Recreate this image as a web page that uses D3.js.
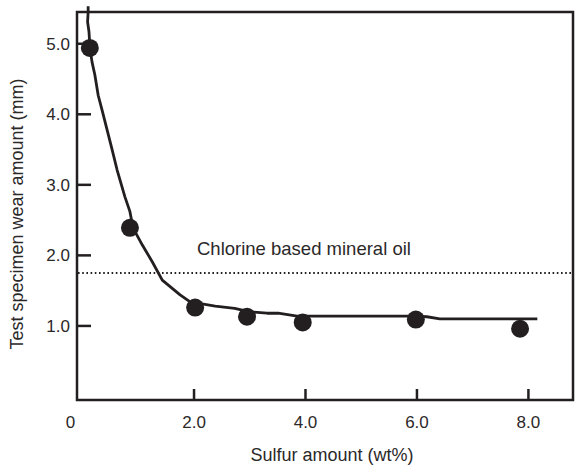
<!DOCTYPE html>
<html>
<head>
<meta charset="utf-8">
<script src="https://cdn.jsdelivr.net/npm/d3@7"></script>
<style>
  body { margin: 0; background: #fff; }
  text { font-family: "Liberation Sans", Arial, sans-serif; fill: #2b2829; }
</style>
</head>
<body>
<script>
// measured points
const sulfur = [0.13, 0.85, 2.02, 2.95, 3.95, 5.98, 7.85]
const wear = [4.94, 2.39, 1.26, 1.13, 1.05, 1.09, 0.96]

// hand drawn trend line
const curveX = [0.10, 0.10, 0.09, 0.115, 0.133, 0.17, 0.22, 0.28, 0.35, 0.44, 0.53, 0.62, 0.76, 0.85, 0.905,
  1.07, 1.25, 1.43, 1.75, 1.93, 2.38, 2.73, 3.0, 3.31, 3.51, 3.85, 5.93, 6.18, 6.41, 8.16]
const curveY = [5.53, 5.45, 5.31, 5.17, 4.94, 4.74, 4.56, 4.27, 4.06, 3.78, 3.50, 3.21, 2.83, 2.62, 2.39,
  2.15, 1.91, 1.65, 1.44, 1.34, 1.28, 1.25, 1.20, 1.18, 1.18, 1.14, 1.14, 1.13, 1.10, 1.10]

const chlorineLevel = 1.75
const xTicks = [2, 4, 6, 8]
const xTickLabels = ['2.0', '4.0', '6.0', '8.0']
const yTicks = [1, 2, 3, 4, 5]
const yTickLabels = ['1.0', '2.0', '3.0', '4.0', '5.0']

const W = 575, H = 465
const ink = '#231f20'

const x = d3.scaleLinear().domain([-0.1, 8.8]).range([77, 573])
const y = d3.scaleLinear().domain([-0.05, 5.45]).range([400, 12])

const svg = d3.select('body').append('svg')
  .attr('width', W).attr('height', H)

// frame
svg.append('rect')
  .attr('x', x.range()[0]).attr('y', y.range()[1])
  .attr('width', x.range()[1] - x.range()[0])
  .attr('height', y.range()[0] - y.range()[1])
  .attr('fill', 'none').attr('stroke', ink).attr('stroke-width', 2.5)

// x ticks + labels
svg.append('g').selectAll('line').data(xTicks).join('line')
  .attr('x1', d => x(d)).attr('x2', d => x(d))
  .attr('y1', 400).attr('y2', 389)
  .attr('stroke', ink).attr('stroke-width', 2.5)
svg.append('g').selectAll('text').data(xTicks).join('text')
  .attr('x', d => x(d)).attr('y', 428)
  .attr('text-anchor', 'middle').attr('font-size', 17)
  .text((d, i) => xTickLabels[i])
svg.append('text').attr('x', x(0) - 12).attr('y', 428)
  .attr('text-anchor', 'middle').attr('font-size', 17).text('0')

// y ticks + labels
svg.append('g').selectAll('line').data(yTicks).join('line')
  .attr('x1', 77).attr('x2', 91)
  .attr('y1', d => y(d)).attr('y2', d => y(d))
  .attr('stroke', ink).attr('stroke-width', 2.5)
svg.append('g').selectAll('text').data(yTicks).join('text')
  .attr('x', 70).attr('y', d => y(d)).attr('dy', '0.35em')
  .attr('text-anchor', 'end').attr('font-size', 17)
  .text((d, i) => yTickLabels[i])

// axis titles
svg.append('text')
  .attr('x', 332).attr('y', 461)
  .attr('text-anchor', 'middle').attr('font-size', 18)
  .text('Sulfur amount (wt%)')
svg.append('text')
  .attr('transform', 'translate(23,214) rotate(-90)')
  .attr('text-anchor', 'middle').attr('font-size', 18)
  .text('Test specimen wear amount (mm)')

// chlorine reference
svg.append('line')
  .attr('x1', 78).attr('x2', 572)
  .attr('y1', y(chlorineLevel)).attr('y2', y(chlorineLevel))
  .attr('stroke', ink).attr('stroke-width', 2)
  .attr('stroke-dasharray', '1.6,2.6')
svg.append('text')
  .attr('x', 197).attr('y', 255).attr('font-size', 18.5)
  .text('Chlorine based mineral oil')

// trend line
const line = d3.line().x(d => x(d[0])).y(d => y(d[1])).curve(d3.curveLinear)
svg.append('path')
  .datum(d3.zip(curveX, curveY))
  .attr('d', line)
  .attr('fill', 'none').attr('stroke', ink)
  .attr('stroke-width', 2.8).attr('stroke-linejoin', 'round')

// points
svg.append('g').selectAll('circle').data(d3.zip(sulfur, wear)).join('circle')
  .attr('cx', d => x(d[0])).attr('cy', d => y(d[1]))
  .attr('r', 9).attr('fill', ink)
</script>
</body>
</html>
